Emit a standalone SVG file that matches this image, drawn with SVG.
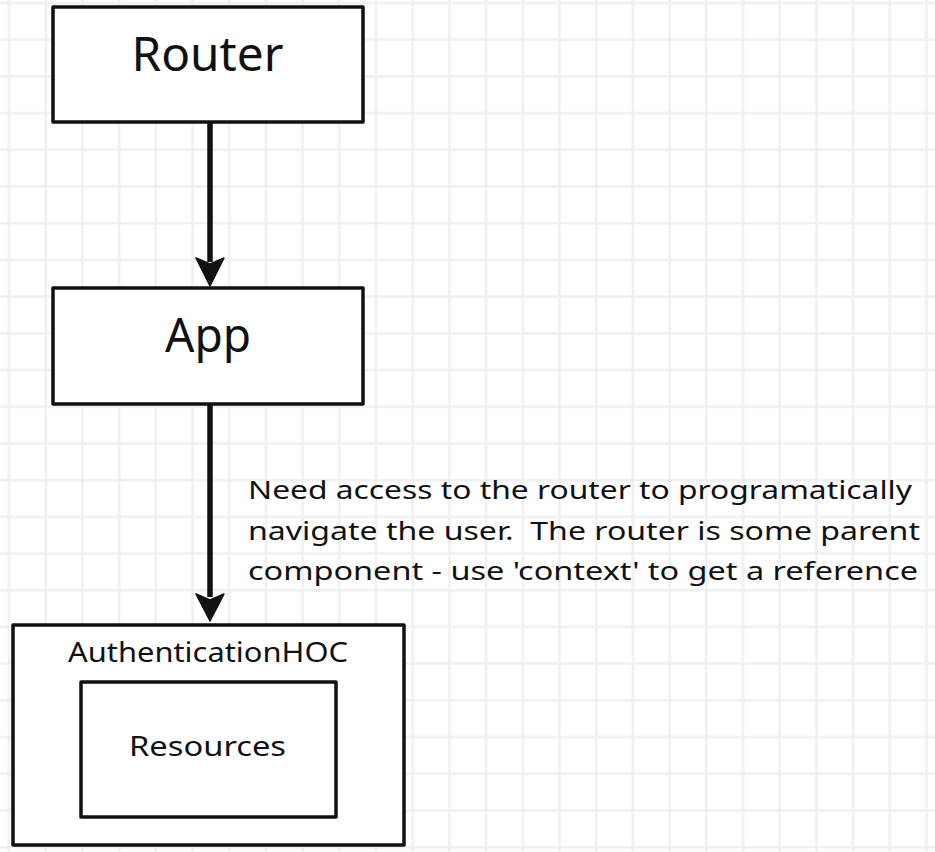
<svg xmlns="http://www.w3.org/2000/svg" width="935" height="852" viewBox="0 0 935 852">
  <style>
    .box { fill: #ffffff; stroke: #111111; stroke-width: 3.5; stroke-linejoin: round; }
    .lbl { font-family: "Noto Sans", "DejaVu Sans", sans-serif; fill: #111111; text-anchor: middle; }
    .note { font-family: "Noto Sans", "DejaVu Sans", sans-serif; fill: #111111; font-size: 26px; }
    .edge { stroke: #111111; stroke-width: 5.5; fill: none; }
    .head { fill: #111111; stroke: #111111; stroke-width: 1.5; stroke-linejoin: round; }
  </style>
  <defs>
    <pattern id="grid" patternUnits="userSpaceOnUse" x="-9.35" y="-15.35" width="36.7" height="36.7">
      <path d="M18.35,0 V36.7 M0,18.35 H36.7" stroke="#f0f0f0" stroke-width="2.5" fill="none"/>
    </pattern>
  </defs>
  <rect x="0" y="0" width="935" height="852" fill="#ffffff"/>
  <rect x="0" y="0" width="935" height="852" fill="url(#grid)"/>

  <g id="connectors">
    <line class="edge" x1="210" y1="122" x2="210" y2="262"/>
    <path class="head" d="M196,258 L210,264 L224,258 L210,286 Z"/>
    <line class="edge" x1="210" y1="404" x2="210" y2="597"/>
    <path class="head" d="M196,594 L210,600 L224,594 L210,621 Z"/>
  </g>

  <g id="router">
    <rect class="box" x="53" y="7" width="310" height="115"/>
    <text class="lbl" x="207.5" y="71" font-size="48" textLength="152" lengthAdjust="spacingAndGlyphs">Router</text>
  </g>

  <g id="app">
    <rect class="box" x="53" y="288" width="310" height="116"/>
    <text class="lbl" x="208" y="352" font-size="47" textLength="86" lengthAdjust="spacingAndGlyphs">App</text>
  </g>

  <g id="authhoc">
    <rect class="box" x="13" y="625" width="391" height="220"/>
    <text class="lbl" x="208" y="662" font-size="28" textLength="280" lengthAdjust="spacingAndGlyphs">AuthenticationHOC</text>
  </g>

  <g id="resources">
    <rect class="box" x="81" y="682" width="255" height="135"/>
    <text class="lbl" x="207.5" y="756" font-size="27" textLength="157" lengthAdjust="spacingAndGlyphs">Resources</text>
  </g>

  <g id="note">
    <text class="note" x="248" y="499" textLength="664" lengthAdjust="spacingAndGlyphs">Need access to the router to programatically</text>
    <text class="note" x="248" y="540" textLength="672" lengthAdjust="spacingAndGlyphs" xml:space="preserve">navigate the user.  The router is some parent</text>
    <text class="note" x="248" y="580" textLength="670" lengthAdjust="spacingAndGlyphs">component - use 'context' to get a reference</text>
  </g>
</svg>
